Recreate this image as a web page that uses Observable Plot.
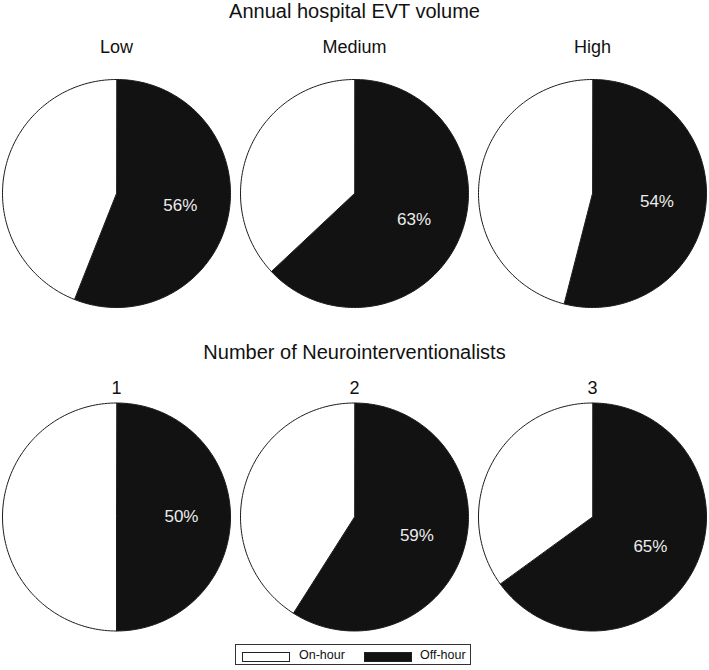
<!DOCTYPE html>
<html>
<head>
<meta charset="utf-8">
<script src="https://cdn.jsdelivr.net/npm/d3@7"></script>
<script src="https://cdn.jsdelivr.net/npm/@observablehq/plot@0.6"></script>
<style>
  body { margin: 0; background: #fff; font-family: "Liberation Sans", Arial, sans-serif; }
  #wrap { position: relative; width: 709px; height: 670px; }
  #legend { position: absolute; left: 235px; top: 644px; width: 234px; height: 19px; border: 1px solid #333; box-sizing: content-box; }
  .sw { position: absolute; top: 7px; width: 46px; height: 8px; border: 1px solid #222; }
  .lt { position: absolute; top: 3px; font-size: 12.5px; line-height: 14px; color: #111; }
</style>
</head>
<body>
<div id="wrap">
  <div id="chart"></div>
  <div id="legend"></div>
</div>
<script>
// ---- data ----
const rowTitles = ["Annual hospital EVT volume", "Number of Neurointerventionalists"];
const volumeCategories = ["Low", "Medium", "High"];
const volumeOffHour = [56, 63, 54];
const neuroCategories = ["1", "2", "3"];
const neuroOffHour = [50, 59, 65];
const seriesNames = ["On-hour", "Off-hour"];
const seriesColors = ["#ffffff", "#121212"];

const rows = [
  {title: rowTitles[0], cats: volumeCategories, values: volumeOffHour},
  {title: rowTitles[1], cats: neuroCategories, values: neuroOffHour}
];

// ---- build slice outlines (angles from the data) ----
const points = [];
const labels = [];
const subtitles = [];
const titles = [];
rows.forEach((r, ri) => {
  titles.push({row: ri, col: 1, text: r.title});
  r.cats.forEach((cat, ci) => {
    subtitles.push({row: ri, col: ci, text: cat});
    const p = r.values[ci] / 100;
    const slices = [
      {series: "Off-hour", a0: 0, a1: p * 2 * Math.PI},
      {series: "On-hour", a0: p * 2 * Math.PI, a1: 2 * Math.PI}
    ];
    slices.forEach(s => {
      const key = `${ri}-${ci}-${s.series}`;
      points.push({key, row: ri, col: ci, series: s.series, x: 0, y: 0});
      const n = Math.max(2, Math.ceil((s.a1 - s.a0) / (2 * Math.PI) * 240));
      for (let i = 0; i <= n; i++) {
        const a = s.a0 + (s.a1 - s.a0) * i / n;
        points.push({key, row: ri, col: ci, series: s.series, x: Math.sin(a), y: Math.cos(a)});
      }
    });
    const mid = p * Math.PI;
    labels.push({row: ri, col: ci, x: 0.57 * Math.sin(mid), y: 0.57 * Math.cos(mid), text: `${r.values[ci]}%`});
  });
});

const W = 709, H = 640;
const chart = Plot.plot({
  width: W,
  height: H,
  marginLeft: 2,
  marginRight: 3,
  marginTop: 79,
  marginBottom: H - 630.5,
  style: {fontFamily: "'Liberation Sans', Arial, sans-serif", background: "#fff"},
  x: {domain: [-1, 1], axis: null},
  y: {domain: [-1, 1], axis: null},
  fx: {domain: [0, 1, 2], paddingInner: 10 / 238, paddingOuter: 0, round: false, axis: null},
  fy: {domain: [0, 1], paddingInner: 95.5 / 323.5, paddingOuter: 0, round: false, axis: null},
  color: {domain: seriesNames, range: seriesColors},
  marks: [
    Plot.line(points, {x: "x", y: "y", z: "key", fx: "col", fy: "row", fill: "series",
      stroke: "#1c1c1c", strokeWidth: 1, curve: "linear-closed"}),
    Plot.text(labels, {x: "x", y: "y", fx: "col", fy: "row", text: "text",
      fill: "#ececec", fontSize: 17}),
    Plot.text(subtitles.filter(d => d.row === 0), {fx: "col", fy: "row", text: "text",
      frameAnchor: "top", lineAnchor: "bottom", dy: -27, fontSize: 18, fill: "#111"}),
    Plot.text(subtitles.filter(d => d.row === 1), {fx: "col", fy: "row", text: "text",
      frameAnchor: "top", lineAnchor: "bottom", dy: -9.5, fontSize: 18, fill: "#111"}),
    Plot.text(titles.filter(d => d.row === 0), {fx: "col", fy: "row", text: "text",
      frameAnchor: "top", lineAnchor: "bottom", dy: -61.5, fontSize: 20, fill: "#111"}),
    Plot.text(titles.filter(d => d.row === 1), {fx: "col", fy: "row", text: "text",
      frameAnchor: "top", lineAnchor: "bottom", dy: -44, fontSize: 20, fill: "#111"})
  ]
});
document.getElementById("chart").appendChild(chart);

// ---- legend ----
const legend = document.getElementById("legend");
const legendLayout = [{sw: 6, tx: 63}, {sw: 128, tx: 184}];
seriesNames.forEach((name, i) => {
  const sw = document.createElement("div");
  sw.className = "sw";
  sw.style.left = legendLayout[i].sw + "px";
  sw.style.background = seriesColors[i];
  legend.appendChild(sw);
  const t = document.createElement("div");
  t.className = "lt";
  t.style.left = legendLayout[i].tx + "px";
  t.textContent = name;
  legend.appendChild(t);
});
</script>
</body>
</html>
